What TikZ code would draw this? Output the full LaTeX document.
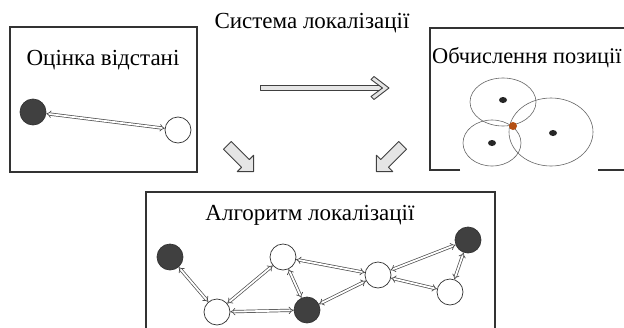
\documentclass[tikz,border=0pt]{standalone}
\usepackage{fontspec}
\setmainfont{Liberation Serif}
\usetikzlibrary{arrows.meta,shapes.arrows}
\begin{document}
\begin{tikzpicture}[x=1pt,y=-1pt,
  box/.style={draw=black!80, line width=1.1pt},
  ttl/.style={font=\fontsize{23}{26}\selectfont, inner sep=0pt, anchor=base},
  nd/.style={circle, draw=black!80, line width=0.7pt, minimum size=26pt, inner sep=0pt},
  blk/.style={nd, fill=black!75},
  wht/.style={nd, fill=white},
  link/.style={draw=black!70, double=white, double distance=1.8pt, line width=0.7pt, {Implies}-{Implies}},
  ring/.style={draw=black!60, line width=0.6pt},
  dotn/.style={fill=black!85},
  hollow/.style={draw=black!75, line width=0.9pt, fill=black!10, line join=round},
  bigarrow/.style={single arrow, hollow, line width=1pt, inner sep=5pt, minimum height=37pt, single arrow head extend=6pt, single arrow head indent=0pt}
]
\useasboundingbox (0,0) rectangle (624,327);
\fill[white] (0,0) rectangle (624,327);
\clip (0,0) rectangle (624,327);

% main title
\node[ttl] (title) at (312,28) {Система локалізації};

% left box
\draw[box] (10,27) rectangle (197,172);
\node[ttl] (t1) at (103,65) {Оцінка відстані};
\node[blk] (l1) at (33,112) {};
\node[wht] (l2) at (178,130) {};
\draw[link] (l1) -- (l2);

% right box
\draw[box] (460,170) -- (430,170) -- (430,28) -- (630,28);
\draw[box] (598,170) -- (630,170);
\node[ttl, font=\fontsize{22.4}{26}\selectfont, anchor=base west] (t2) at (432,63) {Обчислення позиції};
\draw[ring] (503,102) ellipse [x radius=33, y radius=24];
\draw[ring] (492,143) ellipse [x radius=29, y radius=23];
\draw[ring] (551,132) ellipse [x radius=42, y radius=34];
\fill[dotn] (503,100) ellipse [x radius=4, y radius=3];
\fill[dotn] (492,143) ellipse [x radius=4, y radius=3];
\fill[dotn] (553,133) ellipse [x radius=4, y radius=3];
\fill[color={rgb,255:red,180;green,80;blue,20}] (513,126) circle (4);

% big arrows
\coordinate (hs) at (260,88);
\coordinate (he) at (389,88);
\draw[hollow] ([yshift=-2.5pt]hs) rectangle ([xshift=-8pt,yshift=2.5pt]he);
\draw[hollow] ([xshift=-15pt,yshift=-11.5pt]he) -- (he) -- ([xshift=-15pt,yshift=11.5pt]he)
  -- ([xshift=-18pt,yshift=8.5pt]he) -- ([xshift=-6.5pt]he) -- ([xshift=-18pt,yshift=-8.5pt]he) -- cycle;
\node[bigarrow, rotate=-45] (dl) at (238.5,156.5) {};
\node[bigarrow, rotate=-135] (dr) at (391.5,156.5) {};

% bottom box
\draw[box] (146,340) -- (146,192) -- (495,192) -- (495,340);
\node[ttl] (t3) at (310,220) {Алгоритм локалізації};
\node[blk] (a) at (170,257) {};
\node[wht] (b) at (217,312) {};
\node[wht] (c) at (283,257) {};
\node[blk] (d) at (307,310) {};
\node[wht] (e) at (378,275) {};
\node[blk] (f) at (468,240) {};
\node[wht] (g) at (450,292) {};
\draw[link] (a) -- (b);
\draw[link] (b) -- (c);
\draw[link] (b) -- (d);
\draw[link] (c) -- (d);
\draw[link] (c) -- (e);
\draw[link] (d) -- (e);
\draw[link] (e) -- (f);
\draw[link] (e) -- (g);
\draw[link] (f) -- (g);
\end{tikzpicture}
\end{document}
